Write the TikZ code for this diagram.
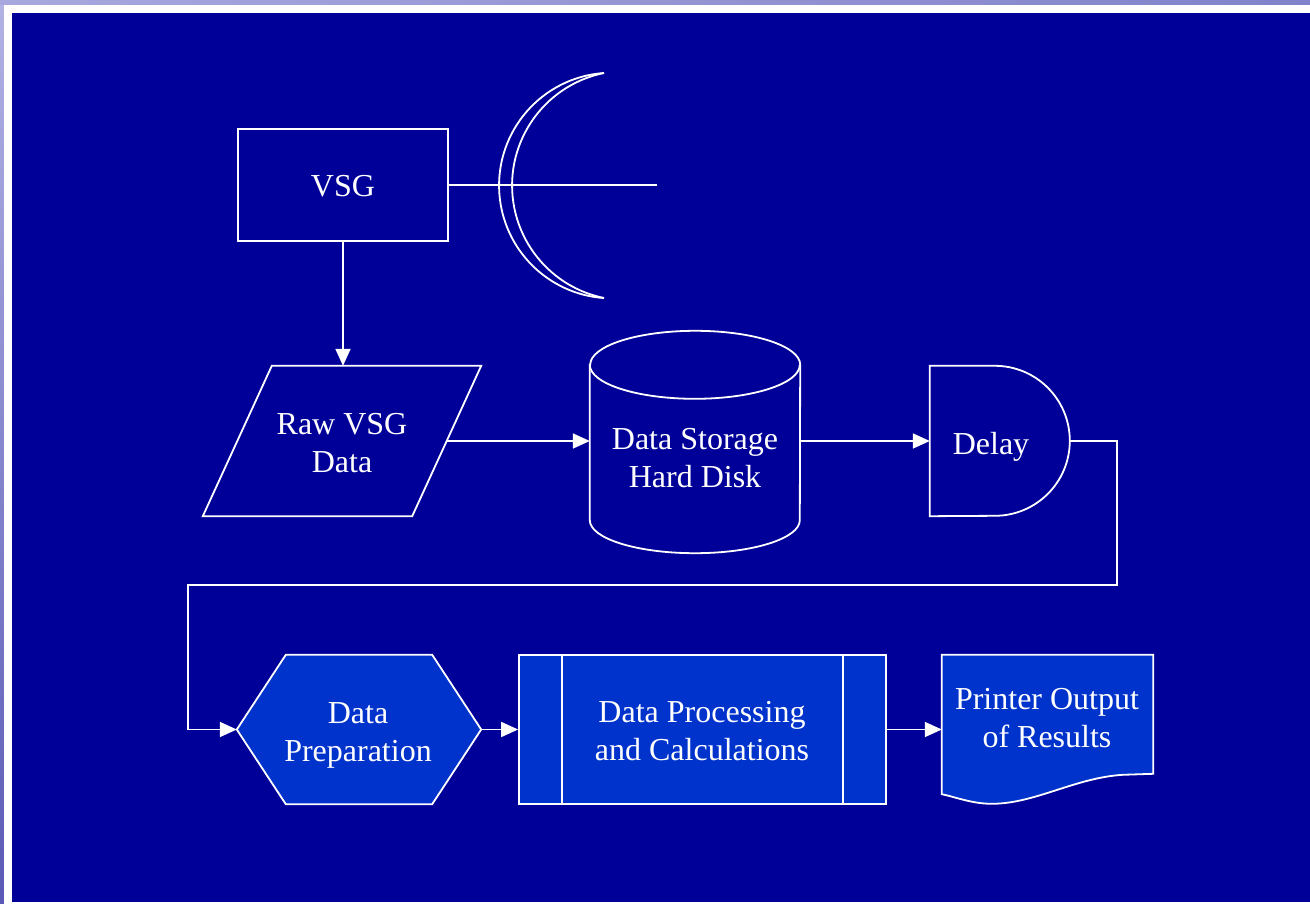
\documentclass[tikz,border=0pt]{standalone}
\usepackage{fontspec}
\setmainfont{Liberation Serif}
\usetikzlibrary{arrows.meta,calc,backgrounds}

\definecolor{slidebg}{HTML}{000099}
\definecolor{boxfill}{HTML}{0033CC}
\definecolor{frametop}{HTML}{B2B2E4}
\definecolor{framebot}{HTML}{5A5AB6}
\definecolor{stripL}{HTML}{A8A8DE}
\definecolor{stripR}{HTML}{8282CA}

\begin{document}
\begin{tikzpicture}[x=1pt,y=-1pt,
  every node/.style={font=\fontsize{32}{38}\selectfont, text=white, align=center, inner sep=0pt},
  outline/.style={draw=white, line width=1.8pt, line join=miter},
  wire/.style={draw=white, line width=1.8pt},
  flow/.style={draw=white, line width=1.8pt, -{Triangle[length=17pt,width=15pt]}},
  holder/.style={draw=none, minimum width=#1},
]
\useasboundingbox (0,0) rectangle (1310,904);

% ---- shape holders (outlines are drawn on the background layer) ----
\node[outline, minimum width=210pt, minimum height=112pt] (vsg) at (343,185) {};
\node[holder=209pt, minimum height=150pt] (raw) at (342,441) {};
\node[holder=210pt, minimum height=222pt] (disk) at (695,442) {};
\node[holder=140pt, minimum height=150pt] (delay) at (1000,441) {};
\node[holder=244pt, minimum height=149pt] (prep) at (359,729.5) {};
\node[outline, fill=boxfill, minimum width=367pt, minimum height=149pt] (proc) at (702.5,729.5) {};
\node[holder=211pt, minimum height=139pt] (print) at (1047.5,724.5) {};

% ---- labels ----
\node (vsgtxt) at (343,186) {VSG};
\node (rawtxt) at (342,443.5) {Raw VSG\\Data};
\node (disktxt) at (695,458.5) {Data Storage\\Hard Disk};
\node (delaytxt) at (991,447) {Delay};
\node (preptxt) at (358,735) {Data\\Preparation};
\node (proctxt) at (702,731.5) {Data Processing\\and Calculations};
\node (printtxt) at (1047,718.5) {Printer Output\\of Results};

\begin{scope}[on background layer]
  % slide frame
  \fill[top color=frametop, bottom color=framebot] (0,0) rectangle (1310,904);
  \fill[left color=stripL, right color=stripR] (0,0) rectangle (1310,5);
  \fill[white] (4,5) rectangle (1310,904);
  \fill[slidebg] (12,13) rectangle (1310,902);

  % manual input
  \draw[outline] ($(raw.north west)+(34.5,0)$) -- ($(raw.north east)+(34.5,0)$)
     -- ($(raw.south east)+(-34.5,0)$) -- ($(raw.south west)+(-34.5,0)$) -- cycle;

  % stored data cylinder
  \draw[outline] ($(disk.north west)+(0,34)$) -- ($(disk.south west)+(0,-33)$)
     arc[start angle=180, end angle=0, x radius=105, y radius=33]
     -- ($(disk.north east)+(0,34)$)
     arc[start angle=0, end angle=-180, x radius=105, y radius=34] -- cycle;
  \draw[outline] ($(disk.north west)+(0,34)$)
     arc[start angle=180, end angle=0, x radius=105, y radius=34];

  % delay
  \draw[outline] (delay.north west) -- ($(delay.north west)+(65,0)$)
     arc[start angle=-90, end angle=90, radius=75] -- (delay.south west) -- cycle;

  % preparation hexagon
  \draw[outline, fill=boxfill] (prep.west) -- ($(prep.north west)+(49,0)$)
     -- ($(prep.north east)+(-49,0)$) -- (prep.east)
     -- ($(prep.south east)+(-49,0)$) -- ($(prep.south west)+(49,0)$) -- cycle;

  % printed document with wavy lower edge
  \draw[outline, fill=boxfill] (print.north west) -- (print.north east)
     -- ($(print.north east)+(0,119)$) -- ($(print.north west)+(181,120)$)
     .. controls ($(print.north west)+(133,123)$) and ($(print.north west)+(93,149)$)
     .. ($(print.north west)+(50,149)$)
     .. controls ($(print.north west)+(30,149)$) and ($(print.north west)+(13,142)$)
     .. (print.south west) -- cycle;
\end{scope}

% predefined-process side bars
\draw[wire] ($(proc.north west)+(44,0)$) -- ($(proc.south west)+(44,0)$);
\draw[wire] ($(proc.north east)+(-44,0)$) -- ($(proc.south east)+(-44,0)$);

% antenna dish
\coordinate (feed) at (657,185);
\draw[wire] (vsg.east) -- (feed);
\draw[wire] (604,73) arc[start angle=266, end angle=94, radius=112.8];
\draw[wire] (604,73) arc[start angle=258.5, end angle=101.5, radius=114.8];

% flow connectors
\coordinate (turnA) at (1117,585);
\coordinate (turnB) at (188,585);
\draw[flow] (vsg.south) -- (vsg.south |- raw.north);
\draw[flow] (raw.east) -- (disk.west |- raw.east);
\draw[flow] (disk.east |- delay.west) -- (delay.west);
\draw[flow] (delay.east) -| (turnA) -- (turnB) |- (prep.west);
\draw[flow] (prep.east) -- (proc.west);
\draw[flow] (proc.east) -- (proc.east -| print.west);
\end{tikzpicture}
\end{document}
